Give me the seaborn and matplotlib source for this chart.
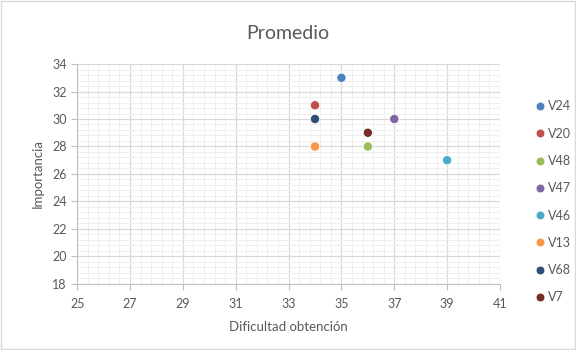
import matplotlib
matplotlib.use("Agg")
import matplotlib.pyplot as plt
import numpy as np
import seaborn as sns
import pandas as pd

# datos
variables = ['V24', 'V20', 'V48', 'V47', 'V46', 'V13', 'V68', 'V7']
dificultad = [35, 34, 36, 37, 39, 34, 34, 36]
importancia = [33, 31, 28, 30, 27, 28, 30, 29]
colores = ['#4F81BD', '#C0504D', '#9BBB59', '#8064A2', '#4BACC6', '#F79646', '#2C4D75', '#772C2A']

df = pd.DataFrame({'Variable': variables, 'Dificultad': dificultad, 'Importancia': importancia})

sns.set_style('white')
plt.rcParams['font.family'] = ['Lato', 'DejaVu Sans']

fig = plt.figure(figsize=(5.76, 3.5), dpi=100)
ax = fig.add_axes([0.134, 0.189, 0.734, 0.628])

sns.scatterplot(data=df, x='Dificultad', y='Importancia', hue='Variable',
                palette=colores, s=45, edgecolor='white', linewidth=0.6,
                zorder=3, ax=ax, legend=True)

ax.set_xlim(25, 41)
ax.set_ylim(18, 34)
ax.set_xticks(np.arange(25, 42, 2))
ax.set_yticks(np.arange(18, 35, 2))
ax.set_xticks(np.arange(25, 41.01, 0.4), minor=True)
ax.set_yticks(np.arange(18, 34.01, 0.4), minor=True)
ax.grid(which='major', color='#D9D9D9', linewidth=0.9)
ax.grid(which='minor', color='#EFEFEF', linewidth=0.7)
ax.set_axisbelow(True)

for s in ['top', 'right']:
    ax.spines[s].set_visible(False)
for s in ['left', 'bottom']:
    ax.spines[s].set_color('#BFBFBF')
ax.tick_params(which='major', direction='out', length=4, color='#BFBFBF',
               labelcolor='#595959', labelsize=9, bottom=True, left=True)
ax.tick_params(axis='x', pad=6)
ax.tick_params(which='minor', length=0)

ax.set_xlabel('Dificultad obtención', fontsize=9.5, color='#595959', labelpad=8)
ax.set_ylabel('Importancia', fontsize=9.5, color='#595959', labelpad=6)
fig.text(0.5, 0.905, 'Promedio', ha='center', va='center', fontsize=14, color='#595959')

handles, labels = ax.get_legend_handles_labels()
ax.get_legend().remove()
leg = fig.legend(handles, labels, loc='upper left', bbox_to_anchor=(0.905, 0.745),
                 frameon=False, fontsize=9, labelspacing=1.22, handletextpad=0.0,
                 handlelength=1.2, markerscale=0.95, labelcolor='#595959')

# borde de la figura
fig.patches.append(plt.Rectangle((0.002, 0.002), 0.996, 0.996, transform=fig.transFigure,
                                 fill=False, edgecolor='#D9D9D9', linewidth=1))

fig.savefig('out.png', dpi=100)
